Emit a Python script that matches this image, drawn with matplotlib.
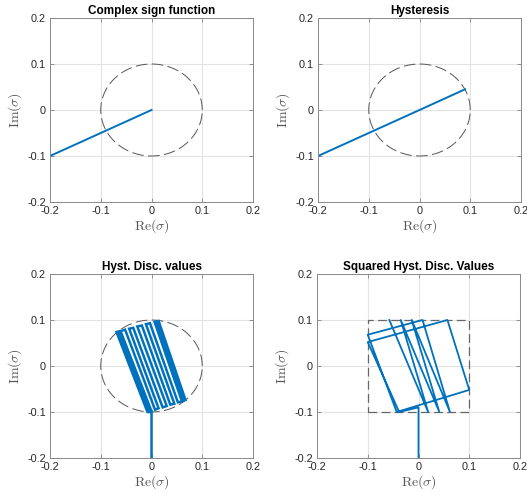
import matplotlib
matplotlib.use("Agg")
import matplotlib.pyplot as plt
import numpy as np

plt.rcParams['font.family'] = ['Liberation Sans', 'DejaVu Sans']
plt.rcParams['mathtext.fontset'] = 'cm'
plt.rcParams['axes.unicode_minus'] = False

# ---- data ----
ticks = [-0.2, -0.1, 0.0, 0.1, 0.2]
tick_labels = ['-0.2', '-0.1', '0', '0.1', '0.2']
titles = ['Complex sign function', 'Hysteresis', 'Hyst. Disc. values', 'Squared Hyst. Disc. Values']

circle_radius = 0.1

sign_re = [-0.2, 0.0]
sign_im = [-0.1, 0.0]

hyst_re = [-0.2, 0.0, 0.0897]
hyst_im = [-0.1, 0.0, 0.045]

disc_re = [0.0, 0.0, -0.008, -0.069, -0.065, -0.004, -0.0005, -0.061, -0.052, 0.007, 0.014,
           -0.044, -0.036, 0.022, 0.030, -0.028, -0.019, 0.037, 0.045, -0.011, -0.003, 0.052,
           0.060, 0.006, 0.010, 0.064, 0.067, 0.014]
disc_im = [-0.2, -0.1, -0.100, 0.074, 0.075, -0.099, -0.097, 0.076, 0.079, -0.095, -0.092,
           0.081, 0.083, -0.090, -0.087, 0.086, 0.088, -0.084, -0.082, 0.091, 0.093, -0.079,
           -0.077, 0.096, 0.097, -0.075, -0.074, 0.098]

sq_re = [0.0, 0.0, -0.038, -0.1, 0.057, 0.1, -0.043, -0.1, 0.008, 0.062, -0.0134, 0.041,
         -0.035, 0.019, -0.0575]
sq_im = [-0.2, -0.09, -0.1, 0.052, 0.1, -0.052, -0.1, 0.068, 0.1, -0.1, 0.1, -0.1,
         0.1, -0.1, 0.1]

square_re = [-0.1, 0.1, 0.1, -0.1, -0.1]
square_im = [-0.1, -0.1, 0.1, 0.1, -0.1]

blue = '#0072BD'

fig = plt.figure(figsize=(5.27, 4.93), dpi=100)
W, H = 527, 493
rects = [(50, 18), (318, 18), (50, 274), (317, 274)]
axes = []
for (l, t) in rects:
    ax = fig.add_axes([l / W, (H - t - 184) / H, 203 / W, 184 / H])
    axes.append(ax)

theta = np.linspace(0, 2 * np.pi, 400)
for i, ax in enumerate(axes):
    ax.set_xlim(-0.2, 0.2)
    ax.set_ylim(-0.2, 0.2)
    ax.set_xticks(ticks)
    ax.set_yticks(ticks)
    ax.set_xticklabels(tick_labels)
    ax.set_yticklabels(tick_labels)
    ax.grid(True, color='#e3e3e3', lw=0.8)
    ax.set_axisbelow(True)
    ax.tick_params(direction='in', length=3, width=0.6, color='#808080', labelsize=7.8,
                   labelcolor='#262626', top=True, right=True, pad=3)
    for s in ax.spines.values():
        s.set_color('#8a8a8a')
        s.set_linewidth(0.7)
    ax.set_title(titles[i], fontsize=8.5, fontweight='bold', pad=3)
    ax.set_xlabel(r'$\mathrm{Re}(\sigma)$', fontsize=10, color='#555555', labelpad=1)
    ax.set_ylabel(r'$\mathrm{Im}(\sigma)$', fontsize=10, color='#555555', labelpad=2)
    if i == 3:
        ax.plot(square_re, square_im, color='#666666', lw=0.9, ls=(0, (7, 3.5)))
    else:
        ax.plot(circle_radius * np.cos(theta), circle_radius * np.sin(theta),
                color='#555555', lw=0.7, ls=(0, (12, 4.5)))

axes[0].plot(sign_re, sign_im, color=blue, lw=1.4)
axes[1].plot(hyst_re, hyst_im, color=blue, lw=1.4)
axes[2].plot(disc_re, disc_im, color=blue, lw=1.8, solid_joinstyle='miter')
axes[3].plot(sq_re, sq_im, color=blue, lw=1.3)

fig.savefig('out.png', dpi=100)
